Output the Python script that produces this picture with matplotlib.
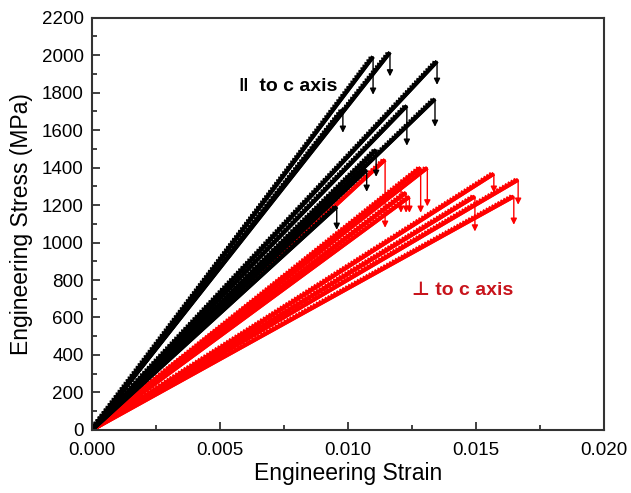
import matplotlib.pyplot as plt
import matplotlib.patheffects as pe

plt.rcParams['font.family'] = ['Liberation Sans', 'DejaVu Sans']

# failure point of each specimen (strain, MPa) and stress after the load drop
par_strain = [0.01098, 0.01164, 0.00980, 0.01348, 0.01340, 0.01230, 0.01110, 0.01073, 0.00956]
par_stress = [1992, 2015, 1709, 1967, 1766, 1730, 1495, 1388, 1191]
par_drop = [1789, 1887, 1586, 1842, 1618, 1517, 1351, 1271, 1068]

perp_strain = [0.01145, 0.01284, 0.01310, 0.01207, 0.01227, 0.01240, 0.01570, 0.01665, 0.01496, 0.01648]
perp_stress = [1442, 1399, 1399, 1298, 1266, 1244, 1367, 1335, 1246, 1246]
perp_drop = [1079, 1159, 1193, 1159, 1159, 1159, 1266, 1202, 1059, 1095]

fig = plt.figure(figsize=(6.31, 4.93), dpi=100)
ax = fig.add_axes([0.146, 0.128, 0.811, 0.836])


def draw_set(strain, stress, drop, color):
    for e, s, d in zip(strain, stress, drop):
        ax.plot([0, e], [0, s], color=color, lw=2.8, solid_capstyle='butt',
                path_effects=[pe.Normal(),
                              pe.withTickedStroke(angle=120, spacing=2.4, length=1.1,
                                                  linewidth=1.6, foreground=color)])
        ax.annotate('', xy=(e, d), xytext=(e, s),
                    arrowprops=dict(arrowstyle='-|>', color=color, lw=1.0,
                                    mutation_scale=9, shrinkA=0, shrinkB=0))


draw_set(perp_strain, perp_stress, perp_drop, '#ff0000')
draw_set(par_strain, par_stress, par_drop, 'black')

ax.text(0.00575, 1835, '\u2016  to c axis', fontsize=14, fontweight='bold',
        color='black', va='center')
ax.text(0.0125, 745, '\u22a5 to c axis', fontsize=14, fontweight='bold',
        color='#c8141c', va='center')

ax.set_xlim(0, 0.020)
ax.set_ylim(0, 2200)
ax.set_xticks([0.000, 0.005, 0.010, 0.015, 0.020])
ax.set_xticklabels(['0.000', '0.005', '0.010', '0.015', '0.020'])
ax.set_xticks([0.0025, 0.0075, 0.0125, 0.0175], minor=True)
ax.set_yticks(range(0, 2201, 200))
ax.set_yticks(range(100, 2200, 200), minor=True)
ax.tick_params(which='both', direction='in', top=False, right=False,
               labelsize=13.5, width=1.3, color='#333333')
ax.tick_params(which='major', length=6)
ax.tick_params(which='minor', length=3.5)
ax.tick_params(axis='y', pad=6)
ax.tick_params(axis='x', pad=9)
for sp in ax.spines.values():
    sp.set_linewidth(1.5)
    sp.set_color('#333333')

ax.set_xlabel('Engineering Strain', fontsize=16.5, labelpad=2)
ax.set_ylabel('Engineering Stress (MPa)', fontsize=16.5, labelpad=6)

fig.savefig('out.png', dpi=100)
